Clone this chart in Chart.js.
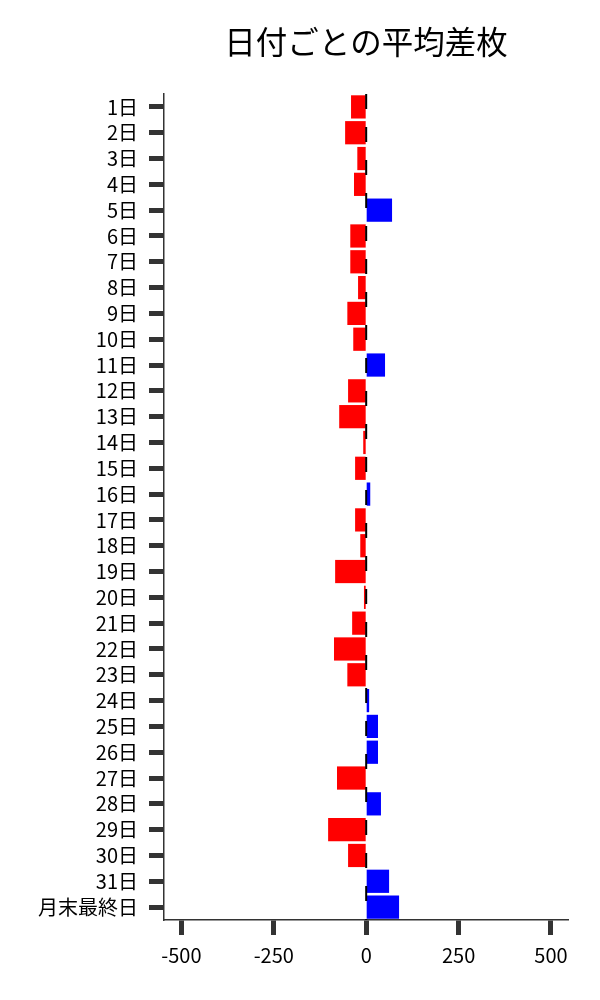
<!DOCTYPE html>
<html>
<head>
<meta charset="utf-8">
<script src="https://cdn.jsdelivr.net/npm/chart.js@4/dist/chart.umd.min.js"></script>
<style>
  html, body { margin: 0; padding: 0; background: #fff; }
  #wrap { width: 600px; height: 1000px; }
</style>
</head>
<body>
<div id="wrap"><canvas id="grafico" width="600" height="1000"></canvas></div>
<script>
// ===== DADOS =====
const titulo = "日付ごとの平均差枚";
const dias = ["1日","2日","3日","4日","5日","6日","7日","8日","9日","10日",
  "11日","12日","13日","14日","15日","16日","17日","18日","19日","20日",
  "21日","22日","23日","24日","25日","26日","27日","28日","29日","30日",
  "31日","月末最終日"];
const mediaDiferenca = [-41, -57, -24, -33, 70, -43, -43, -22, -51, -35,
  51, -49, -73, -8, -30, 11, -30, -16, -84, -6,
  -38, -87, -51, 8, 32, 32, -79, 40, -103, -49,
  62, 89];
const ticksX = [-500, -250, 0, 250, 500];

const fonte = "'Noto Sans CJK JP', 'Noto Sans', sans-serif";
const cores = mediaDiferenca.map(v => v < 0 ? "#ff0000" : "#0000ff");

// linha tracejada no zero + título centralizado na área do gráfico
const extras = {
  id: "extras",
  afterDatasetsDraw(chart) {
    const { ctx, chartArea, scales } = chart;
    const x0 = scales.x.getPixelForValue(0);
    ctx.save();
    ctx.strokeStyle = "#000";
    ctx.lineWidth = 2;
    ctx.setLineDash([15, 18]);
    ctx.beginPath();
    ctx.moveTo(x0, chartArea.top);
    ctx.lineTo(x0, chartArea.bottom);
    ctx.stroke();
    ctx.restore();
  },
  afterDraw(chart) {
    const { ctx, chartArea } = chart;
    ctx.save();
    ctx.fillStyle = "#000";
    ctx.font = "31.5px " + fonte;
    ctx.textAlign = "center";
    ctx.textBaseline = "middle";
    ctx.fillText(titulo, (chartArea.left + chartArea.right) / 2, 42);
    ctx.restore();
  }
};

new Chart(document.getElementById("grafico"), {
  type: "bar",
  data: {
    labels: dias,
    datasets: [{
      data: mediaDiferenca,
      backgroundColor: cores,
      borderWidth: 0,
      barPercentage: 0.9,
      categoryPercentage: 1
    }]
  },
  options: {
    indexAxis: "y",
    responsive: false,
    animation: false,
    layout: { padding: { top: 94, right: 32, left: 0, bottom: 0 } },
    plugins: { legend: { display: false }, tooltip: { enabled: false } },
    scales: {
      x: {
        min: -547,
        max: 546,
        afterBuildTicks: s => { s.ticks = ticksX.map(v => ({ value: v })); },
        afterFit: s => { s.height = 80; },
        grid: { drawOnChartArea: false, drawTicks: true, tickLength: 15, tickWidth: 5, tickColor: "#333" },
        border: { display: true, color: "#333", width: 1.5 },
        ticks: { color: "#000", font: { family: fonte, size: 20 }, padding: 8, maxRotation: 0 }
      },
      y: {
        afterFit: s => { s.width = 164; },
        grid: { offset: false, drawOnChartArea: false, drawTicks: true, tickLength: 15, tickWidth: 5, tickColor: "#333" },
        border: { display: true, color: "#333", width: 1.5 },
        ticks: { color: "#000", font: { family: fonte, size: 20 }, padding: 11, autoSkip: false }
      }
    }
  },
  plugins: [extras]
});
</script>
</body>
</html>
